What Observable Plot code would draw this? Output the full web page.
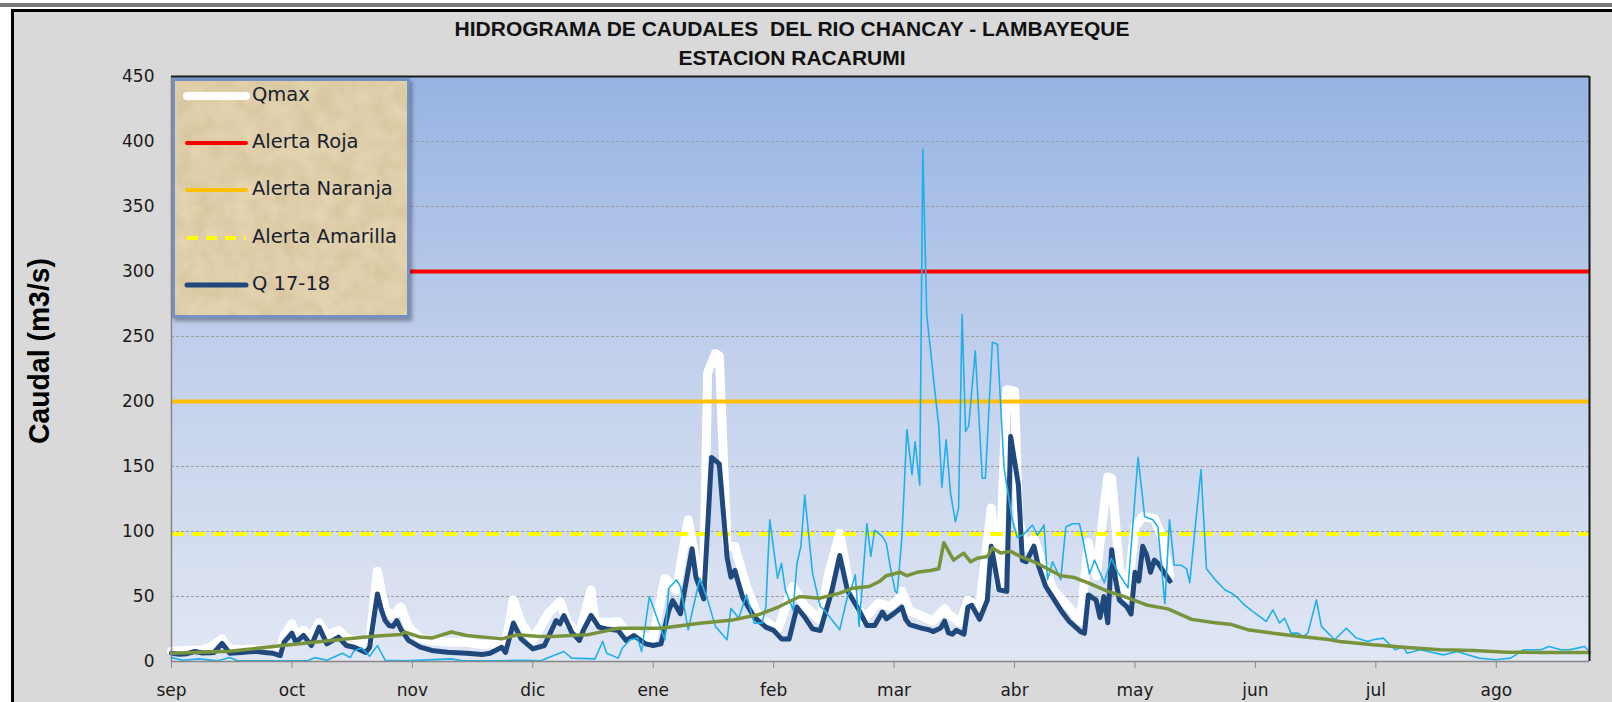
<!DOCTYPE html>
<html><head><meta charset="utf-8">
<script src="https://cdn.jsdelivr.net/npm/d3@7"></script>
<script src="https://cdn.jsdelivr.net/npm/@observablehq/plot@0.6"></script>
<style>
html,body{margin:0;padding:0;width:1612px;height:702px;overflow:hidden;background:#fff;}
#topline{position:absolute;left:0;top:3px;width:1612px;height:4px;background:#7a7a7a;}
#frame{position:absolute;left:11px;top:9px;width:1610px;height:700px;border-left:3px solid #000;border-top:3px solid #000;background:#d9d9d9;}
.ttl{position:absolute;left:0;width:1584px;text-align:center;font-family:"Liberation Sans",Arial,sans-serif;font-weight:bold;font-size:21px;line-height:24px;color:#111;white-space:pre;}
#chart{position:absolute;left:0;top:66px;}
#legend{position:absolute;left:172px;top:78px;width:232px;height:234px;border:3px solid #7391c2;box-shadow:2px 3px 4px rgba(0,0,0,0.35);overflow:hidden;}
#legend svg.bg{position:absolute;left:0;top:0;}
.li{position:absolute;left:0;height:30px;width:232px;}
.li svg{position:absolute;left:7px;top:0;}
.li span{position:absolute;left:77px;top:2px;font-family:"DejaVu Sans",Verdana,sans-serif;font-size:19.5px;color:#17202e;white-space:nowrap;}
</style></head>
<body>
<div id="topline"></div>
<div id="frame"></div>
<div class="ttl" style="top:17px">HIDROGRAMA DE CAUDALES  DEL RIO CHANCAY - LAMBAYEQUE</div>
<div class="ttl" style="top:46px">ESTACION RACARUMI</div>
<div id="chart"></div>
<div id="legend"></div>
<script>
// ---- data (x = day index from 1 Sep, 31-day month ticks) ----
const monthLabels = ["sep","oct","nov","dic","ene","feb","mar","abr","may","jun","jul","ago"];
const monthTicks = [0,31,62,93,124,155,186,217,248,279,310,341];
const yTicks = [0,50,100,150,200,250,300,350,400,450];
const gridValues = [50,100,150,200,250,300,350,400];
const alertaRoja = 300;
const alertaNaranja = 200;
const alertaAmarilla = 98;
const yLabel = "Caudal (m3/s)";

const qmax = [[0,8],[4,8.5],[8,9],[10,11],[13,17.4],[15,9],[20,9.5],[25,9],[28,8],[29,20],[31,29],[32,21],[34,24],[36,18],[38,29.7],[40,20],[43,24],[45,18],[48,16],[50,12],[51,16],[53,69.5],[55,39.6],[57,35],[59,42],[61,26.6],[64,18],[67,16],[71,15],[76,14.8],[80,13],[84,14],[86,13],[88,47.4],[90,29.5],[93,16.7],[97,37],[100,46],[102,29.5],[105,21.8],[108,55],[109,30.8],[112,30],[115,30.8],[117,23],[122,19],[124,18],[127,64],[130,55],[133,109],[135,75.6],[137,60],[138,222],[140,237],[141,235],[143,88.5],[145,88.5],[148,57.7],[151,34.6],[156,24.4],[160,57.7],[163,42.3],[167,32],[169,65.4],[172,98.7],[174,65.4],[178,32],[182,45],[185,42.3],[187,47.4],[188,54],[190,39],[196,31],[199,40.5],[200,36.5],[203,29.8],[205,47],[208,41.8],[211,118],[213,58],[215,209],[217,208],[218,109],[220,87.4],[222,95],[224,76.7],[227,55],[231,41.8],[234,31],[236,91.4],[238,66],[241,142],[242,141],[244,71.3],[246,49.9],[248,103.5],[250,111.5],[253,110],[255,95.4],[257,66]];

const q1718 = [[0,6.4],[2,5.5],[4,6],[6,7.7],[8,6.5],[10,6.8],[11,7],[13,14],[15,6.4],[18,7],[20,7.5],[22,7.7],[24,7],[26,6.4],[28,4.6],[29,14.9],[31,21.8],[32,14.9],[34,20],[36,12.3],[38,26.4],[40,13.6],[43,18.7],[45,12.3],[47,11],[50,7],[51,11],[53,52],[54,40],[55,31.5],[56,27.7],[57,27],[58,31.5],[59,25],[61,16.2],[64,11],[67,8.5],[71,7.2],[76,6.4],[80,5.4],[82,6.4],[85,11],[86,7],[88,29.5],[90,17.4],[93,9.7],[96,12.3],[99,31.5],[100,29],[101,35.4],[103,22.6],[105,16.2],[106,23.9],[108,35.4],[110,26.4],[112,25.1],[115,23.9],[117,16.2],[119,20],[122,13.6],[124,12.3],[126,13.6],[128,39.2],[129,46.9],[131,36.7],[134,86.7],[135,64.9],[137,48.2],[139,157],[141,152],[143,80.3],[144,64.9],[145,70],[147,49.5],[150,34.1],[153,26.4],[155,23.9],[157,17.4],[159,17.4],[161,41.8],[163,34.1],[165,25.1],[167,23.9],[170,54.6],[172,81.5],[174,54.6],[177,39.2],[179,27.7],[181,27.7],[183,38],[184,32.8],[186,37],[188,41.8],[189,32.4],[190,28.4],[193,25.7],[195,24.4],[196,23],[198,25.7],[199,31],[200,22],[201,21],[202,24],[204,21],[205,41.8],[206,43.2],[208,32.4],[210,47.2],[211,88.7],[213,55.2],[215,53.9],[216,173],[218,135.7],[219,78],[220,76.7],[222,88.7],[223,75.3],[225,57.9],[227,48.5],[229,39.1],[231,31.1],[234,23],[235,21.7],[236,51.2],[238,47.2],[239,33.8],[240,49.9],[241,29.8],[242,86],[243,63.3],[244,47.2],[246,41.8],[247,36.5],[248,68.6],[249,61.9],[250,88.7],[251,82],[252,68.6],[253,78],[254,75.3],[257,61.9]];

const qAnterior = [[0,3],[3,1],[7,2],[12,0.5],[15,3],[17,0.5],[25,0.5],[35,0.5],[37,3],[40,1],[44,6.3],[46,3],[47,8.3],[49,10.4],[51,4],[53,12.2],[55,1],[60,0.5],[72,2],[75,0.5],[85,0.5],[90,1],[95,0.5],[101,7.7],[103,2.6],[109,2],[111,15.4],[112,6.4],[115,2.6],[116,10],[118,16.7],[120,18],[121,7.7],[123,50],[125,33.3],[127,16.7],[128,56.4],[130,62.8],[131,57.7],[133,24.4],[136,64],[138,47.4],[140,27],[143,16.7],[144,41],[146,33.3],[148,51.3],[150,29.5],[152,29.5],[153,42.3],[154,109],[156,64],[157,75.6],[158,55],[160,39.7],[161,75.6],[162,88.5],[163,128],[165,68],[167,42.3],[168,39.7],[172,24.4],[174,50],[175,56.4],[176,66.7],[177,27],[179,106],[180,80.8],[181,101],[183,96],[184,91],[185,73],[186.3,54],[186.8,52.5],[188,95.4],[189.3,178.5],[190.6,143.7],[191.4,169],[192.6,135.7],[193.4,394],[194.4,267],[196.2,216],[197.5,181],[198.3,134],[199.4,170.5],[200.5,130],[201.8,107.5],[202.6,118],[203.5,267],[204.4,177],[205.2,181],[206.9,239],[208.7,141],[209.5,141],[211.3,245.6],[212.6,244],[214.3,149],[216.4,109],[217.7,95.4],[219.4,98],[221.6,105],[222.9,97],[224.6,105],[225.5,63],[226.8,76.7],[228.9,63],[230.2,103.5],[231.9,106],[233.7,106],[234.5,95.4],[236.3,67.3],[237.6,78],[240.1,60.6],[241.9,79.4],[243.6,68.6],[246.2,56.6],[248.8,157],[250.5,111.5],[252.6,109],[253.9,103.5],[255.7,44.5],[256.9,109],[258.1,74],[260,74],[261.3,71.3],[262.1,60.6],[265,147.7],[266.4,71.3],[268.6,63],[271.2,55],[272.9,52.5],[274.6,48.5],[276,44],[278.3,38.5],[281.8,30.8],[283.5,39.7],[285.2,29.5],[286.5,33.3],[288.2,21.8],[290,21.8],[291.2,19.2],[292.5,21.8],[294.7,47.4],[296,27],[299.4,16.7],[302.4,25.6],[305,18],[308,15.4],[309.3,16.7],[311.9,18],[315,9],[317.1,11.5],[318,6.4],[321.4,9],[327.4,5.1],[330.9,7.7],[336.5,2.6],[340.8,1.3],[344.7,2.6],[348.1,9],[352.4,9],[354.6,11.5],[357.6,9],[359.8,9],[361.9,10.3],[363.7,11.5],[365,7.7]];

const qPromedio = [[0,6.3],[15,7.8],[28,12.2],[41,16.1],[52,19.5],[59,20.8],[60,22.7],[64,18.8],[67,18],[72,22.7],[76,20],[85,17.4],[89,20.6],[94,19.5],[98,19.2],[107,20.5],[115,25.6],[126,25.6],[136,29.5],[144.5,32],[151,35.9],[156.5,42.3],[161.7,50],[166.8,48.7],[172,52.6],[175.4,56.4],[179.6,57.7],[182.2,61.5],[184,66],[187.6,68.6],[189.3,66],[191.9,68.6],[195.3,70],[197.5,71.3],[198.8,91.4],[201.3,78],[203.9,83.4],[205.7,76.7],[207.4,79.4],[210,80.7],[211.3,87.4],[213.4,83.4],[216,84.7],[218.6,80.7],[222,76.7],[225.5,71.3],[228.9,66],[232.4,64.6],[235.8,60.6],[241,53.9],[245.3,49.9],[251.3,43.2],[256.5,40.5],[262.6,32.4],[268.6,29.8],[272.9,28.4],[277,24.5],[283.5,21.8],[289.5,19.7],[297.3,17.2],[300.7,15.4],[309.3,12.8],[318,10.8],[326.6,9],[335.2,8.5],[343.8,7.2],[352.4,6.9],[365,6.9]];

const legendItems = [
  {label:"Qmax", color:"#ffffff", width:8, dash:null},
  {label:"Alerta Roja", color:"#ff0000", width:4, dash:null},
  {label:"Alerta Naranja", color:"#ffc000", width:4, dash:null},
  {label:"Alerta Amarilla", color:"#ffff00", width:4, dash:"11,8"},
  {label:"Q 17-18", color:"#1f497d", width:5, dash:null}
];

const X = d => d[0], Y = d => d[1];
const chart = Plot.plot({
  width: 1612, height: 636,
  marginLeft: 171, marginRight: 23, marginTop: 10, marginBottom: 41,
  style: {background: "transparent", fontFamily: "DejaVu Sans, Verdana, sans-serif", fontSize: "17px", color: "#1a1a1a", overflow: "visible"},
  x: {domain: [0, 365], ticks: monthTicks, tickFormat: d => monthLabels[monthTicks.indexOf(d)], tickSize: 7, tickPadding: 15, label: null},
  y: {domain: [0, 450], ticks: yTicks, tickSize: 0, tickPadding: 17, label: null},
  marks: [
    Plot.frame({fill: "url(#plotBg)", stroke: null}),
    Plot.ruleY(gridValues, {stroke: "#9c9c9c", strokeWidth: 1, strokeDasharray: "3,2"}),
    Plot.line(qmax, {x: X, y: Y, stroke: "#ffffff", strokeWidth: 9}),
    Plot.ruleY([alertaRoja], {stroke: "#ff0000", strokeWidth: 4}),
    Plot.ruleY([alertaNaranja], {stroke: "#ffc000", strokeWidth: 4}),
    Plot.ruleY([alertaAmarilla], {stroke: "#ffff00", strokeWidth: 4, strokeDasharray: "13,8"}),
    Plot.line(q1718, {x: X, y: Y, stroke: "#1f497d", strokeWidth: 5}),
    Plot.line(qAnterior, {x: X, y: Y, stroke: "#1fb0ec", strokeWidth: 1.6}),
    Plot.line(qPromedio, {x: X, y: Y, stroke: "#77933c", strokeWidth: 3.5}),
    Plot.ruleX([0], {stroke: "#888888", strokeWidth: 1.5}),
    Plot.ruleY([0], {stroke: "#888888", strokeWidth: 1.5}),
    Plot.ruleY([450], {stroke: "#1a1a1a", strokeWidth: 2}),
    Plot.ruleX([365], {stroke: "#1a1a1a", strokeWidth: 2}),
    Plot.text([yLabel], {frameAnchor: "left", textAnchor: "middle", rotate: -90, dx: -132, dy: -18, fontSize: 30, fontWeight: "bold", fontFamily: "Liberation Sans, Arial, sans-serif", fill: "#000"})
  ]
});
document.getElementById("chart").appendChild(chart);
const svg = d3.select(chart.tagName.toLowerCase() === "svg" ? chart : chart.querySelector("svg"));
svg.insert("defs", ":first-child").html('<linearGradient id="plotBg" x1="0" y1="0" x2="0" y2="1"><stop offset="0" stop-color="#97b3e3"/><stop offset="0.5" stop-color="#c3d1ec"/><stop offset="1" stop-color="#e0e6f3"/></linearGradient>');
svg.selectAll('g[aria-label="x-axis tick"] path, g[aria-label="x-axis"] path').attr("stroke", "#8a8a8a");
svg.selectAll("text").filter(function(){ return this.textContent === yLabel; })
  .attr("textLength", 186).attr("lengthAdjust", "spacingAndGlyphs");

// legend
const lg = d3.select("#legend");
lg.append("svg").attr("class","bg").attr("width",232).attr("height",234).html(
  '<filter id="paper"><feTurbulence type="fractalNoise" baseFrequency="0.05" numOctaves="4" seed="3"/><feColorMatrix values="0 0 0 0 0.5  0 0 0 0 0.38  0 0 0 0 0.2  0 0 0 0.45 0"/></filter>' +
  '<rect width="232" height="234" fill="#e9d9b6"/><rect width="232" height="234" filter="url(#paper)"/>');
const rowTops = [0, 47, 94, 142, 189];
legendItems.forEach((it, i) => {
  const row = lg.append("div").attr("class","li").style("top", rowTops[i] + "px");
  const s = row.append("svg").attr("width", 70).attr("height", 30);
  s.append("line").attr("x1", 5).attr("x2", 64).attr("y1", 15).attr("y2", 15)
    .attr("stroke", it.color).attr("stroke-width", it.width).attr("stroke-linecap", it.dash ? "butt" : "round")
    .attr("stroke-dasharray", it.dash);
  row.append("span").text(it.label);
});
</script>
</body></html>
